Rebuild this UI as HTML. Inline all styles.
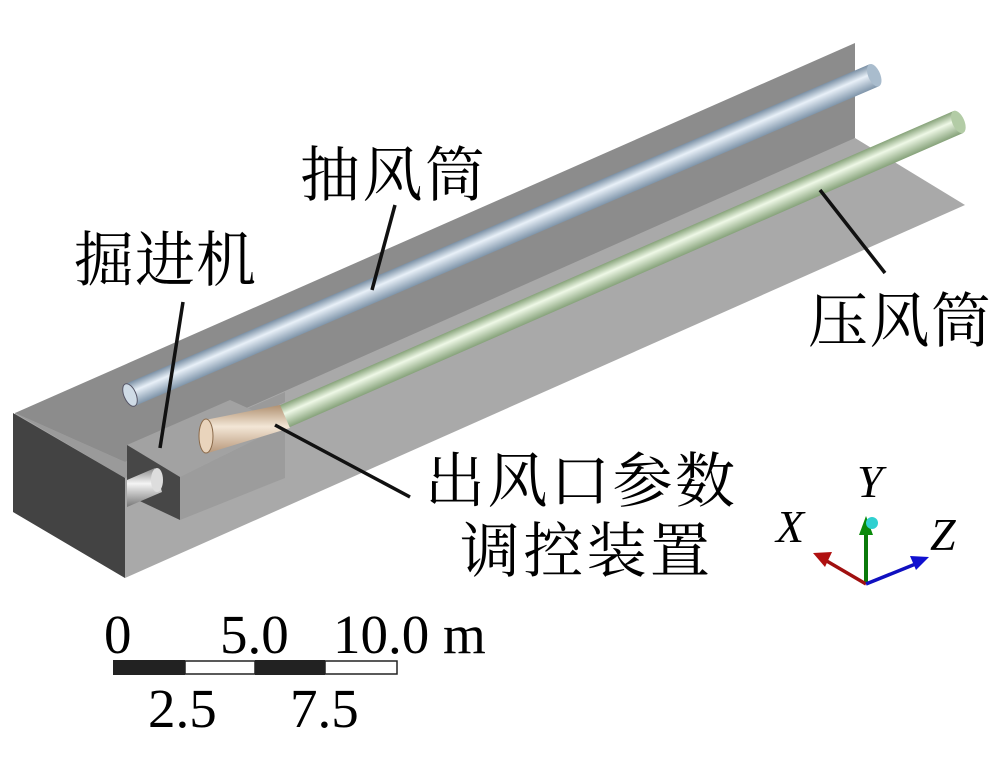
<!DOCTYPE html>
<html><head><meta charset="utf-8"><style>
html,body{margin:0;padding:0;background:#fff;width:1004px;height:783px;overflow:hidden}
svg{display:block}
.cn{font-family:"Liberation Serif","Noto Serif CJK SC","Noto Sans CJK SC",serif;font-size:60px;fill:#000}
.nm{font-family:"Liberation Serif",serif;font-size:55px;fill:#000}
.ax{font-family:"Liberation Serif",serif;font-style:italic;font-size:46px;fill:#000}
</style></head><body>
<svg width="1004" height="783" viewBox="0 0 1004 783" xmlns="http://www.w3.org/2000/svg">
<defs>
<linearGradient id="bl" x1="0" y1="0" x2="0" y2="1">
<stop offset="0" stop-color="#7a8fa4"/><stop offset="0.4" stop-color="#e8f0f8"/><stop offset="1" stop-color="#7f95aa"/></linearGradient>
<linearGradient id="gr" x1="0" y1="0" x2="0" y2="1">
<stop offset="0" stop-color="#86a279"/><stop offset="0.4" stop-color="#eef8e6"/><stop offset="1" stop-color="#86a27a"/></linearGradient>
<linearGradient id="cn" x1="0" y1="0" x2="0" y2="1">
<stop offset="0" stop-color="#b09070"/><stop offset="0.45" stop-color="#f3e6d6"/><stop offset="1" stop-color="#b8987a"/></linearGradient>
<linearGradient id="wp" x1="0" y1="0" x2="0" y2="1">
<stop offset="0" stop-color="#8a8a8a"/><stop offset="0.4" stop-color="#f5f5f5"/><stop offset="1" stop-color="#777"/></linearGradient>
</defs>
<polygon points="855,138 965,205 125,578 15,513 15,413" fill="#a9a9a9"/>
<polygon points="855,43 855,138 125,462 15,413" fill="#8c8c8c"/>
<polygon points="15,413 125,462 285,392 285,402 125,478" fill="#9a9a9a"/>
<polygon points="13,413 125,478 125,578 13,512" fill="#434343"/>
<polygon points="127,445 230,400 285,425 180,477" fill="#a2a2a2"/>
<polygon points="180,477 285,425 285,478 180,520" fill="#9c9c9c"/>
<polygon points="127,445 180,477 180,520 127,495" fill="#474747"/>
<polygon points="127,480 155,468 162,492 127,507" fill="url(#wp)"/>
<ellipse cx="157" cy="480" rx="6" ry="12" fill="#ddd"/>
<g transform="translate(130,395) rotate(-23.25)">
<rect x="0" y="-12" width="810" height="24" fill="url(#bl)"/>
<ellipse cx="810" cy="0" rx="6" ry="12" fill="#a9bccd"/>
<ellipse cx="0" cy="0" rx="6" ry="12" fill="#cfdbe6" stroke="#556" stroke-width="1"/>
</g>
<g transform="translate(283,417) rotate(-23.6)">
<rect x="0" y="-12" width="737" height="24" fill="url(#gr)"/>
<ellipse cx="737" cy="0" rx="6" ry="12" fill="#b3cca6"/>
</g>
<polygon points="205,420 280,405 290,428 208,453" fill="url(#cn)"/>
<ellipse cx="206" cy="436" rx="7" ry="17" fill="#e9d4bc" stroke="#8a6a4a" stroke-width="1"/>
<g stroke="#111" stroke-width="3.5">
<line x1="395" y1="205" x2="372" y2="290"/>
<line x1="183" y1="302" x2="160" y2="448"/>
<line x1="885" y1="273" x2="820" y2="190"/>
<line x1="410" y1="497" x2="275" y2="425"/>
</g>
<text class="cn" x="300" y="196" textLength="185">抽风筒</text>
<text class="cn" x="74" y="281" textLength="182">掘进机</text>
<text class="cn" x="808" y="342" textLength="183">压风筒</text>
<text class="cn" x="425" y="502" textLength="310">出风口参数</text>
<text class="cn" x="460" y="572" textLength="250">调控装置</text>
<rect x="113" y="660" width="72" height="15" fill="#222"/>
<rect x="185" y="661" width="70" height="13" fill="#fff" stroke="#222" stroke-width="1.5"/>
<rect x="255" y="660" width="70" height="15" fill="#222"/>
<rect x="325" y="661" width="72" height="13" fill="#fff" stroke="#222" stroke-width="1.5"/>
<text class="nm" x="104" y="653">0</text>
<text class="nm" x="220" y="653">5.0</text>
<text class="nm" x="333" y="653">10.0 m</text>
<text class="nm" x="148" y="727">2.5</text>
<text class="nm" x="290" y="727">7.5</text>
<line x1="866" y1="584" x2="866" y2="530" stroke="#0a7a0a" stroke-width="4"/>
<polygon points="859,535 873,535 866,516" fill="#0a8a0a"/>
<circle cx="872" cy="523" r="6" fill="#2fd0d0"/>
<line x1="866" y1="584" x2="825" y2="560" stroke="#a01010" stroke-width="3.5"/>
<polygon points="813,553 832,552 825,567" fill="#b01010"/>
<line x1="866" y1="584" x2="918" y2="563" stroke="#1010c0" stroke-width="3.5"/>
<polygon points="929,557 910,556 916,570" fill="#1010d0"/>
<text class="ax" x="776" y="542">X</text>
<text class="ax" x="857" y="497">Y</text>
<text class="ax" x="930" y="550">Z</text>
</svg>
</body></html>
